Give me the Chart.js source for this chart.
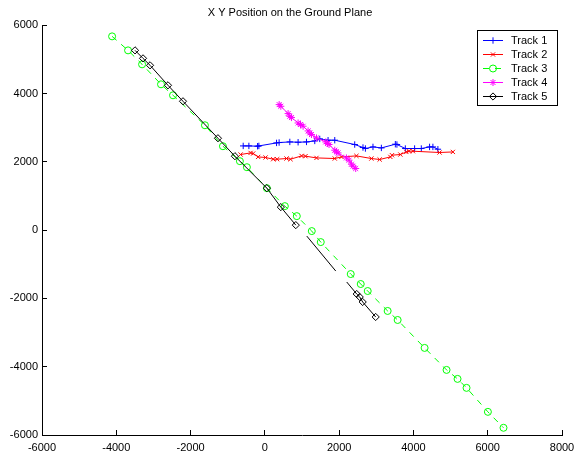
<!DOCTYPE html>
<html><head><meta charset="utf-8">
<script src="https://cdn.jsdelivr.net/npm/chart.js@4.4.1/dist/chart.umd.min.js"></script>
<style>html,body{margin:0;padding:0;background:#fff;}</style>
</head><body>
<canvas id="c" width="580" height="455"></canvas>
<script>
const chartTitle = 'X Y Position on the Ground Plane';
const seriesNames = ['Track 1', 'Track 2', 'Track 3', 'Track 4', 'Track 5'];
const xTicks = [-6000, -4000, -2000, 0, 2000, 4000, 6000, 8000];
const yTicks = [-6000, -4000, -2000, 0, 2000, 4000, 6000];

const track1X = [-583, -430, -196, -161, 315, 384, 672, 895, 1121, 1344, 1478, 1702, 1882, 2419, 2642, 2707, 2911, 3137, 3513, 3556, 3782, 4032, 4212, 4435, 4524, 4659];
const track1Y = [2465, 2465, 2456, 2465, 2553, 2564, 2582, 2573, 2582, 2611, 2670, 2632, 2632, 2506, 2418, 2389, 2436, 2406, 2515, 2506, 2389, 2389, 2389, 2436, 2436, 2368];

const track2X = [-653, -384, -315, -180, 19, 223, 331, 583, 691, 987, 1094, 1390, 1882, 2062, 2465, 2868, 3091, 3379, 3422, 3648, 3809, 3879, 3987, 4704, 5062];
const track2Y = [2213, 2260, 2243, 2143, 2126, 2076, 2076, 2096, 2076, 2173, 2164, 2114, 2096, 2143, 2173, 2096, 2067, 2143, 2193, 2213, 2289, 2310, 2310, 2272, 2289];

const track3X = [-4113, -3683, -3306, -2796, -2473, -1613, -1129, -672, -484, 54, 538, 860, 1263, 1505, 2312, 2581, 2769, 3306, 3575, 4301, 4892, 5188, 5430, 6005, 6425];
const track3Y = [5673, 5263, 4854, 4269, 3947, 3070, 2456, 2018, 1842, 1228, 702, 409, -29, -351, -1287, -1579, -1784, -2368, -2632, -3450, -4094, -4357, -4620, -5322, -5789];

const track4X = [385, 430, 626, 672, 717, 895, 960, 1030, 1164, 1210, 1255, 1390, 1640, 1685, 1728, 1882, 1927, 1970, 2196, 2266, 2331, 2374, 2446];
const track4Y = [3675, 3626, 3412, 3333, 3295, 3137, 3091, 3041, 2904, 2845, 2798, 2699, 2582, 2535, 2506, 2339, 2289, 2260, 2114, 2047, 1930, 1871, 1804];

// null = break in the track
const track5X = [-3495, -3280, -3091, -2608, -2204, -1263, -806, 54, 430, 833, 0, 2473, 2554, 2634, 2984];
const track5Y = [5263, 5029, 4825, 4240, 3772, 2690, 2164, 1228, 673, 146, null, -1871, -1959, -2105, -2544];
// unmarked connecting pieces of track 5
const track5SegX = [1129, 1909, 0, 2204, 2473];
const track5SegY = [-175, -1199, null, -1520, -1871];

function pts(xs, ys) { return xs.map((x, i) => ({ x: x, y: ys[i] })); }

const FONT = '"Liberation Sans", Arial, sans-serif';

const datasets = [
  { label: seriesNames[0], data: pts(track1X, track1Y), borderColor: '#0000ff', pointStyle: 'cross', pointRadius: 3.2, order: 5 },
  { label: seriesNames[1], data: pts(track2X, track2Y), borderColor: '#ff0000', pointStyle: 'crossRot', pointRadius: 3, order: 4 },
  { label: seriesNames[2], data: pts(track3X, track3Y), borderColor: '#00ff00', pointStyle: 'circle', pointRadius: 3.5, borderDash: [6, 6], order: 3 },
  { label: seriesNames[3], data: pts(track4X, track4Y), borderColor: '#ff00ff', pointStyle: 'star', pointRadius: 3.5, order: 2 },
  { label: seriesNames[4], data: pts(track5X, track5Y), borderColor: '#000000', pointStyle: 'rectRot', pointRadius: 3.6, order: 1 },
  { label: '', data: pts(track5SegX, track5SegY), borderColor: '#000000', pointRadius: 0, order: 1, noLegend: true }
].map(d => Object.assign({
  showLine: true, spanGaps: false, borderWidth: 1, pointBorderWidth: 1,
  pointBorderColor: d.borderColor, pointBackgroundColor: 'rgba(0,0,0,0)',
  backgroundColor: 'rgba(0,0,0,0)', pointHoverRadius: 0, fill: false, tension: 0
}, d));

function drawMarker(ctx, style, x, y, r) {
  ctx.beginPath();
  if (style === 'cross' || style === 'star') {
    ctx.moveTo(x - r, y); ctx.lineTo(x + r, y);
    ctx.moveTo(x, y - r); ctx.lineTo(x, y + r);
  }
  if (style === 'crossRot' || style === 'star') {
    const o = r * Math.SQRT1_2;
    ctx.moveTo(x - o, y - o); ctx.lineTo(x + o, y + o);
    ctx.moveTo(x - o, y + o); ctx.lineTo(x + o, y - o);
  }
  if (style === 'circle') { ctx.arc(x, y, r, 0, Math.PI * 2); }
  if (style === 'rectRot') {
    ctx.moveTo(x, y - r); ctx.lineTo(x + r, y); ctx.lineTo(x, y + r); ctx.lineTo(x - r, y); ctx.closePath();
  }
  ctx.stroke();
}

const legendPlugin = {
  id: 'boxLegend',
  afterDraw(chart) {
    const ctx = chart.ctx;
    const area = chart.chartArea;
    const items = chart.data.datasets.filter(d => !d.noLegend);
    const w = 80, rowH = 14, h = 75;
    const left = area.right - 5 - w, top = area.top + 5;
    ctx.save();
    ctx.fillStyle = '#fff';
    ctx.fillRect(left, top, w, h);
    ctx.strokeStyle = '#000'; ctx.lineWidth = 1;
    ctx.strokeRect(Math.round(left) + 0.5, Math.round(top) + 0.5, w, h);
    ctx.font = '11px ' + FONT;
    ctx.textBaseline = 'middle'; ctx.textAlign = 'left';
    items.forEach((d, i) => {
      const y = Math.round(top + 9.5 + i * rowH) + 0.5;
      ctx.strokeStyle = d.borderColor; ctx.lineWidth = 1;
      ctx.setLineDash(d.borderDash || []);
      ctx.beginPath(); ctx.moveTo(left + 6, y); ctx.lineTo(left + 26, y); ctx.stroke();
      ctx.setLineDash([]);
      drawMarker(ctx, d.pointStyle, left + 16, y, d.pointRadius);
      ctx.fillStyle = '#000';
      ctx.fillText(d.label, left + 34, y + 0.5);
    });
    ctx.restore();
  }
};

const plain = v => String(v);

new Chart(document.getElementById('c'), {
  type: 'scatter',
  data: { datasets: datasets },
  plugins: [legendPlugin],
  options: {
    responsive: false, animation: false, devicePixelRatio: 1,
    layout: { padding: { left: 0, right: 0, top: 0, bottom: 0 } },
    plugins: {
      legend: { display: false },
      tooltip: { enabled: false },
      title: { display: true, text: chartTitle, color: '#000', font: { family: FONT, size: 11, weight: 'normal' }, padding: { top: 6, bottom: 6 } }
    },
    scales: {
      x: {
        type: 'linear', min: -6000, max: 8000,
        afterBuildTicks: s => { s.ticks = xTicks.map(v => ({ value: v })); },
        afterFit: s => { s.height = 20; s.paddingRight = 18; s.paddingLeft = 0; },
        ticks: { color: '#000', font: { family: FONT, size: 11 }, padding: 11, maxRotation: 0, autoSkip: false, callback: plain },
        grid: { drawOnChartArea: false, drawTicks: true, tickLength: -5, color: '#000', lineWidth: 1 },
        border: { display: true, color: '#000', width: 1 }
      },
      y: {
        type: 'linear', min: -6000, max: 6000,
        afterBuildTicks: s => { s.ticks = yTicks.map(v => ({ value: v })); },
        afterFit: s => { s.width = 42; },
        ticks: { color: '#000', font: { family: FONT, size: 11 }, padding: 9, autoSkip: false, callback: plain },
        grid: { drawOnChartArea: false, drawTicks: true, tickLength: -5, color: '#000', lineWidth: 1 },
        border: { display: true, color: '#000', width: 1 }
      }
    }
  }
});
</script>
</body></html>
